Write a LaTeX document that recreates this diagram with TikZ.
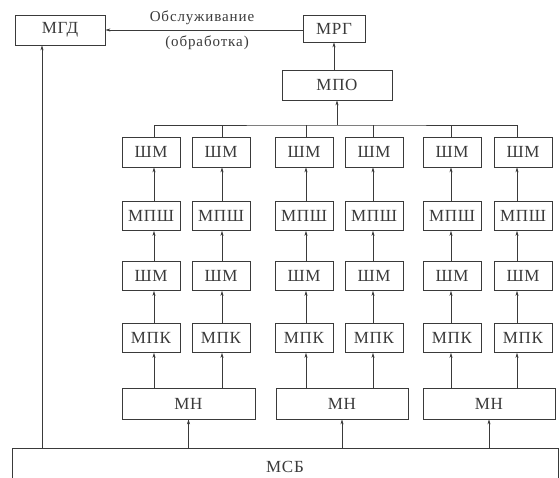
\documentclass[tikz,border=0pt]{standalone}
\usepackage{fontspec}
\setmainfont{Liberation Serif}
\usetikzlibrary{arrows.meta}
\definecolor{ink}{HTML}{3A3A3A}
\tikzset{
  box/.style={draw=ink, line width=0.7pt, rectangle, inner sep=0pt, text=ink,
    font=\fontsize{17}{19}\selectfont\addfontfeature{LetterSpace=4}},
  lbl/.style={text=ink, inner sep=0pt, font=\fontsize{15}{17}\selectfont\addfontfeature{LetterSpace=6}},
  conn/.style={draw=ink, line width=0.6pt},
  arr/.style={conn, -{Stealth[length=5pt,width=3pt]}}
}
\begin{document}
\begin{tikzpicture}[x=1pt,y=-1pt]
\useasboundingbox[fill=white] (0,0) rectangle (560,477);
% top
\node[box, minimum width=90, minimum height=30] (mgd) at (60,30) {МГД};
\node[box, minimum width=62, minimum height=27] (mrg) at (334,28.5) {МРГ};
\node[box, minimum width=110, minimum height=30] (mpo) at (337,85) {МПО};
\node[lbl] (t1) at (202,18) {Обслуживание};
\node[lbl] (t2) at (207,43) {(обработка)};
% column coordinates
\coordinate (c1) at (154,0);
\coordinate (c2) at (222,0);
\coordinate (c3) at (306,0);
\coordinate (c4) at (373,0);
\coordinate (c5) at (451,0);
\coordinate (c6) at (517,0);
\coordinate (bus) at (337,125);
% rows
\foreach \i/\x in {1/151,2/221,3/304,4/374,5/452,6/523}{
  \node[box, minimum width=58, minimum height=30] (sa\i) at (\x,152) {ШМ};
  \node[box, minimum width=58, minimum height=29] (mp\i) at (\x,216) {МПШ};
  \node[box, minimum width=58, minimum height=29] (sb\i) at (\x,276) {ШМ};
  \node[box, minimum width=58, minimum height=29] (mk\i) at (\x,338) {МПК};
}
\node[box, minimum width=133, minimum height=31] (mn1) at (188.5,403.5) {МН};
\node[box, minimum width=132, minimum height=31] (mn2) at (342,403.5) {МН};
\node[box, minimum width=132, minimum height=31] (mn3) at (489,403.5) {МН};
\node[box, minimum width=546, minimum height=38] (msb) at (285,467) {МСБ};
% connectors
\draw[arr] (mrg.west |- mgd.east) -- (mgd.east);
\draw[arr] (mpo.north -| mrg.south) -- (mrg.south);
\draw[arr] (bus) -- (mpo.south);
\draw[conn] (sa1.north -| c1) |- (bus) -| (sa6.north -| c6);
\foreach \i in {2,3,4,5}{
  \draw[conn] (sa\i.north -| c\i) -- (bus -| c\i);
}
\foreach \i in {1,...,6}{
  \draw[arr] (mp\i.north -| c\i) -- (sa\i.south -| c\i);
  \draw[arr] (sb\i.north -| c\i) -- (mp\i.south -| c\i);
  \draw[arr] (mk\i.north -| c\i) -- (sb\i.south -| c\i);
}
\draw[arr] (mn1.north -| c1) -- (mk1.south -| c1);
\draw[arr] (mn1.north -| c2) -- (mk2.south -| c2);
\draw[arr] (mn2.north -| c3) -- (mk3.south -| c3);
\draw[arr] (mn2.north -| c4) -- (mk4.south -| c4);
\draw[arr] (mn3.north -| c5) -- (mk5.south -| c5);
\draw[arr] (mn3.north -| c6) -- (mk6.south -| c6);
\draw[arr] (msb.north -| mn1.south) -- (mn1.south);
\draw[arr] (msb.north -| mn2.south) -- (mn2.south);
\draw[arr] (msb.north -| mn3.south) -- (mn3.south);
\coordinate (v) at (42,0);
\draw[arr] (msb.north -| v) -- (mgd.south -| v);
\end{tikzpicture}
\end{document}
